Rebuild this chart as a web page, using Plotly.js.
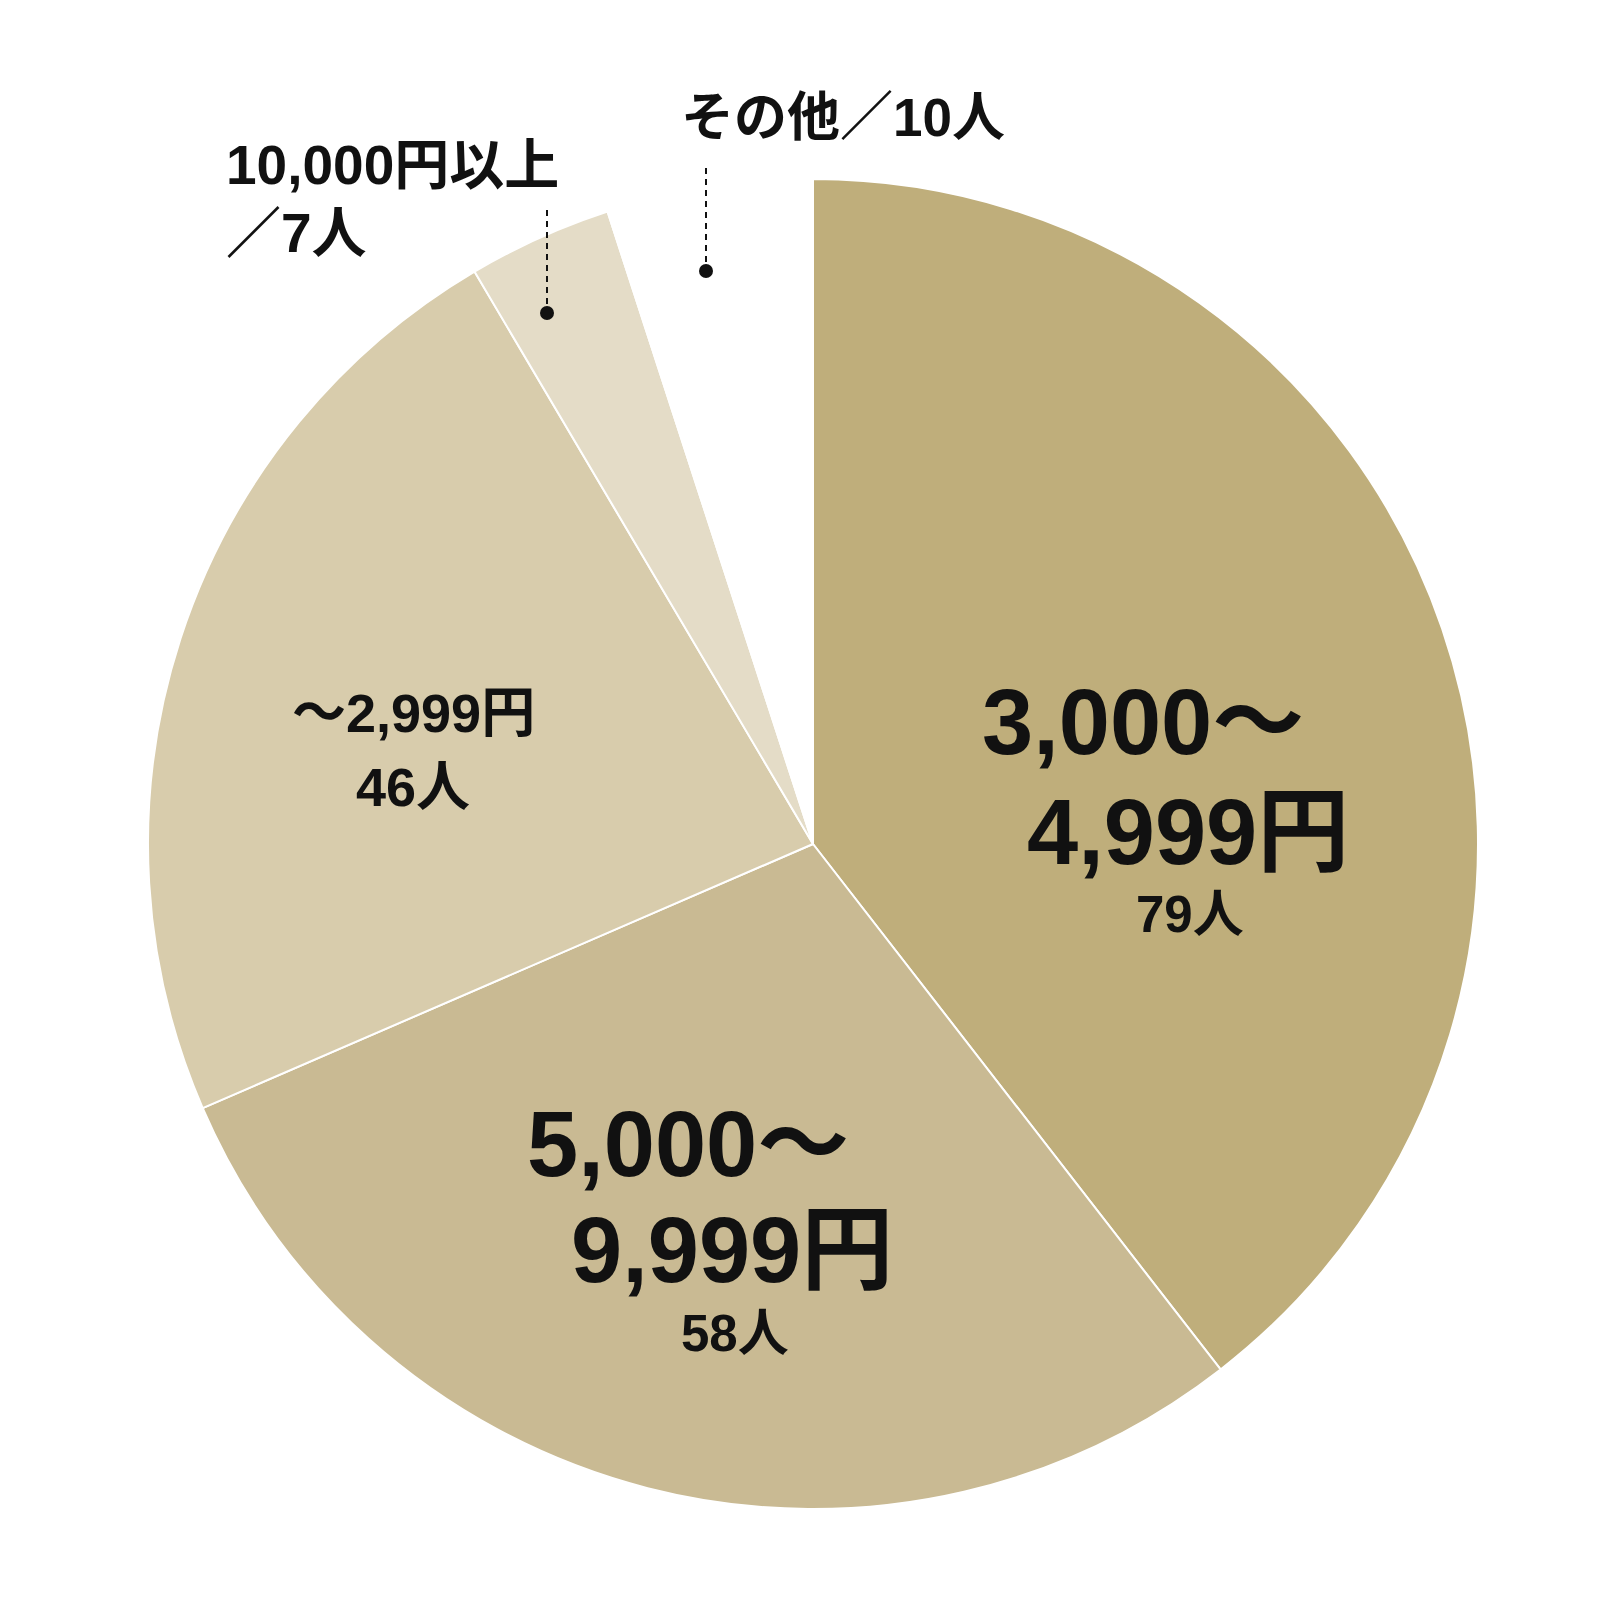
<!DOCTYPE html>
<html>
<head>
<meta charset="utf-8">
<script src="https://cdn.plot.ly/plotly-3.0.1.min.js"></script>
<style>html,body{margin:0;padding:0;background:#fff;}#chart{width:1600px;height:1600px;}</style>
</head>
<body>
<div id="chart"></div>
<script>
// Data
const categories = ["3,000〜4,999円", "5,000〜9,999円", "〜2,999円", "10,000円以上", "その他"];
const counts = [79, 58, 46, 7, 10];
const sliceColors = ["#BFAE7B", "#C9BA93", "#D8CCAC", "#E4DCC7", "#FFFFFF"];

// Label text lines
const bigLine1 = ["3,000〜", "5,000〜"];
const bigLine2 = ["4,999円", "9,999円"];
const countLabels = ["79人", "58人", "46人"];
const smallLabel = "〜2,999円";
const outerLabelA = ["10,000円以上", "／7人"];
const outerLabelB = "その他／10人";

const FONT = "'Liberation Sans', 'Noto Sans CJK JP', sans-serif";
const W = 1600, H = 1600;
const px = x => x / W;
const py = y => 1 - y / H;

const cx = 813, cy = 844, R = 665;

const trace = {
  type: "pie",
  labels: categories,
  values: counts,
  sort: false,
  direction: "clockwise",
  rotation: 0,
  textinfo: "none",
  hoverinfo: "label+value",
  marker: { colors: sliceColors, line: { color: "#FFFFFF", width: 2 } },
  domain: { x: [px(cx - R), px(cx + R)], y: [py(cy + R), py(cy - R)] },
  showlegend: false
};

function ann(text, x, y, size, anchor) {
  return {
    text: text, x: px(x), y: py(y), xref: "paper", yref: "paper",
    xanchor: anchor || "center", yanchor: "middle", showarrow: false,
    font: { family: FONT, size: size, color: "#111111", weight: "bold" }
  };
}

const annotations = [
  ann(bigLine1[0], 1143, 722, 92),
  ann(bigLine2[0], 1188, 832, 92),
  ann(countLabels[0], 1190, 914, 51),
  ann(bigLine1[1], 688, 1144, 92),
  ann(bigLine2[1], 732, 1250, 92),
  ann(countLabels[1], 735, 1333, 51),
  ann(smallLabel, 414, 713, 54),
  ann(countLabels[2], 413, 787, 54),
  ann(outerLabelA[0], 224, 165, 55, "left"),
  ann(outerLabelA[1], 224, 233, 55, "left"),
  ann(outerLabelB, 843, 118, 53)
];

const shapes = [
  { type: "line", xref: "paper", yref: "paper", x0: px(706), x1: px(706), y0: py(168), y1: py(262),
    line: { color: "#111", width: 2, dash: "6px,5px" } },
  { type: "circle", xref: "paper", yref: "paper", x0: px(699), x1: px(713), y0: py(264), y1: py(278),
    fillcolor: "#111", line: { color: "#111", width: 0 } },
  { type: "line", xref: "paper", yref: "paper", x0: px(547), x1: px(547), y0: py(210), y1: py(304),
    line: { color: "#111", width: 2, dash: "6px,5px" } },
  { type: "circle", xref: "paper", yref: "paper", x0: px(540), x1: px(554), y0: py(306), y1: py(320),
    fillcolor: "#111", line: { color: "#111", width: 0 } }
];

const layout = {
  width: W, height: H,
  margin: { l: 0, r: 0, t: 0, b: 0 },
  paper_bgcolor: "#FFFFFF",
  showlegend: false,
  annotations: annotations,
  shapes: shapes
};

Plotly.newPlot("chart", [trace], layout, { staticPlot: true });
</script>
</body>
</html>
